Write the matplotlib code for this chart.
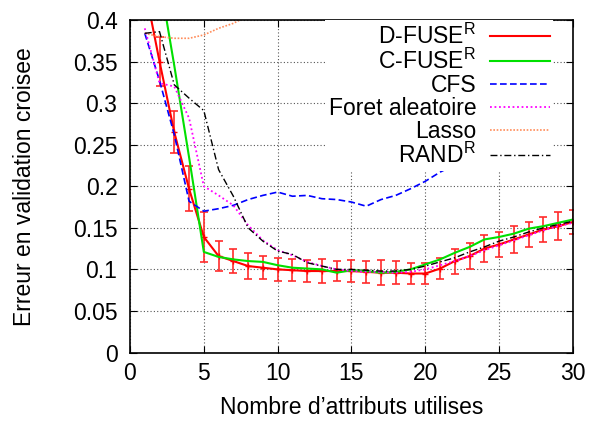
import numpy as np
import matplotlib
matplotlib.use("Agg")
import matplotlib.pyplot as plt

plt.rcParams["font.family"] = ["Liberation Sans", "DejaVu Sans"]
plt.rcParams["mathtext.default"] = "regular"

# D-FUSE^R (with error bars)
x_dfuse = list(range(1, 31))
dfuse = [0.44, 0.350, 0.265, 0.197, 0.139, 0.116, 0.110, 0.104, 0.102, 0.100,
         0.099, 0.098, 0.098, 0.098, 0.098, 0.097, 0.096, 0.096, 0.095, 0.095,
         0.101, 0.110, 0.116, 0.125, 0.130, 0.136, 0.142, 0.148, 0.152, 0.157]
dfuse_err = [0.030, 0.029, 0.025, 0.027, 0.030, 0.018, 0.014, 0.016, 0.014, 0.014,
             0.013, 0.013, 0.014, 0.012, 0.013, 0.013, 0.015, 0.014, 0.013, 0.013,
             0.013, 0.015, 0.016, 0.016, 0.015, 0.016, 0.015, 0.015, 0.017, 0.015]

# C-FUSE^R
x_cfuse = list(range(1, 31))
cfuse = [0.50, 0.45, 0.345, 0.235, 0.121, 0.115, 0.112, 0.110, 0.109, 0.105,
         0.102, 0.101, 0.100, 0.096, 0.099, 0.098, 0.096, 0.097, 0.100, 0.106,
         0.112, 0.120, 0.127, 0.136, 0.139, 0.143, 0.149, 0.152, 0.156, 0.160]

# CFS (stops at 22)
x_cfs = list(range(1, 23))
cfs = [0.384, 0.327, 0.262, 0.182, 0.170, 0.173, 0.177, 0.184, 0.189, 0.193,
       0.188, 0.189, 0.185, 0.184, 0.181, 0.176, 0.184, 0.189, 0.197, 0.206,
       0.217, 0.226]

# Foret aleatoire
x_rf = list(range(1, 31))
rf = [0.390, 0.324, 0.320, 0.282, 0.200, 0.189, 0.177, 0.153, 0.135, 0.123,
      0.117, 0.109, 0.104, 0.100, 0.098, 0.097, 0.097, 0.096, 0.097, 0.100,
      0.105, 0.110, 0.116, 0.123, 0.129, 0.135, 0.141, 0.147, 0.152, 0.156]

# Lasso (leaves the plot after ~7.5)
x_lasso = list(range(1, 9))
lasso = [0.384, 0.380, 0.378, 0.378, 0.382, 0.390, 0.396, 0.405]

# RAND^R
x_rand = list(range(1, 31))
rand = [0.384, 0.386, 0.322, 0.306, 0.291, 0.220, 0.188, 0.150, 0.134, 0.122,
        0.118, 0.108, 0.104, 0.100, 0.100, 0.099, 0.098, 0.098, 0.100, 0.104,
        0.109, 0.114, 0.121, 0.127, 0.134, 0.139, 0.145, 0.150, 0.154, 0.158]

fig = plt.figure(figsize=(5.89, 4.21), dpi=100)
ax = fig.add_axes([0.2207, 0.1627, 0.7521, 0.7898])

fs = 16.5

ax.errorbar(x_dfuse, dfuse, yerr=dfuse_err, fmt="none", ecolor="#ff2a2a",
            elinewidth=1.4, capsize=3, capthick=1.4, alpha=0.85)
ax.plot(x_dfuse, dfuse, color="#ff0000", lw=1.5, label="D-FUSE$^R$")
ax.plot(x_dfuse, dfuse, ls="none", color="#ff0000", marker="+", ms=5, mew=1)
ax.plot(x_cfuse, cfuse, color="#00e000", lw=1.5, label="C-FUSE$^R$")
ax.plot(x_cfs, cfs, color="#0000ff", lw=1.2, ls=(0, (4, 2)), label="CFS")
ax.plot(x_rf, rf, color="#ff00ff", lw=1.3, ls=(0, (1, 1.5)), label="Foret aleatoire")
ax.plot(x_lasso, lasso, color="#ff8c5a", lw=1.2, ls=(0, (1, 1)), label="Lasso")
ax.plot(x_rand, rand, color="#000000", lw=1.0, ls=(0, (5, 2, 1, 2)), label="RAND$^R$")

ax.set_xlim(0, 30)
ax.set_ylim(0, 0.4)
ax.set_xticks(range(0, 31, 5))
ax.set_yticks(np.arange(0, 0.401, 0.05))
ax.yaxis.set_major_formatter(plt.FuncFormatter(lambda v, p: "%g" % round(v, 2)))
ax.tick_params(direction="in", top=True, right=True, labelsize=fs, length=5)
ax.tick_params(axis="y", pad=9)
ax.tick_params(axis="x", pad=7)
ax.grid(True, color="#555555", ls=(0, (1, 2)), lw=0.8)
for s in ax.spines.values():
    s.set_linewidth(1.2)

ax.set_xlabel("Nombre d\u2019attributs utilises", fontsize=fs, labelpad=8)
ax.set_ylabel("Erreur en validation croisee", fontsize=fs)
ax.yaxis.set_label_coords(-0.212, 0.5)

leg = ax.legend(loc="upper right", bbox_to_anchor=(0.955, 1.0), markerfirst=False,
                frameon=True, fontsize=fs, handlelength=2.6, labelspacing=0.0,
                borderaxespad=0.0, handletextpad=0.6, borderpad=0.15, fancybox=False)
leg.get_frame().set_edgecolor("none")
leg.get_frame().set_alpha(1)
for t in leg.get_texts():
    t.set_ha("right")
leg.set_zorder(5)

fig.savefig("out.png", dpi=100)
